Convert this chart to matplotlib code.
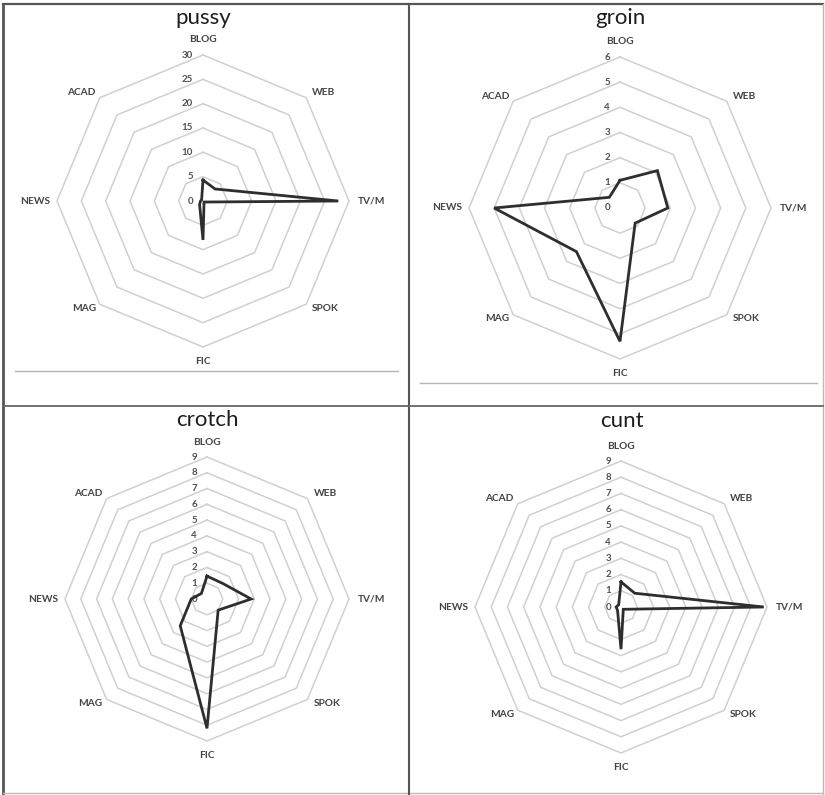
import matplotlib
matplotlib.use('Agg')
import matplotlib.pyplot as plt
import numpy as np
from matplotlib.lines import Line2D

# ---- data ----
categories = ['BLOG', 'WEB', 'TV/M', 'SPOK', 'FIC', 'MAG', 'NEWS', 'ACAD']
pussy = [4.3, 3.5, 27.8, 0.3, 8.0, 1.0, 0.5, 0.4]
groin = [1.1, 2.1, 1.9, 0.85, 5.3, 2.45, 5.0, 0.6]
crotch = [1.45, 1.4, 2.8, 1.0, 8.2, 2.4, 1.0, 0.5]
cunt = [1.55, 1.2, 8.8, 0.2, 2.6, 0.3, 0.3, 0.2]
titles = ['pussy', 'groin', 'crotch', 'cunt']
pussy_ticks = [0, 5, 10, 15, 20, 25, 30]
groin_ticks = [0, 1, 2, 3, 4, 5, 6]
crotch_ticks = [0, 1, 2, 3, 4, 5, 6, 7, 8, 9]
cunt_ticks = [0, 1, 2, 3, 4, 5, 6, 7, 8, 9]

W, H = 825, 795
fig = plt.figure(figsize=(W / 100, H / 100), dpi=100)
fig.patch.set_facecolor('white')

FONT = ['Lato', 'DejaVu Sans']

# panel geometry in pixels: centre x, centre y, radius, title x, title y
panels = [
    (titles[0], pussy, pussy_ticks, 203, 201, 146, 203, 18),
    (titles[1], groin, groin_ticks, 620, 208, 151, 620, 18),
    (titles[2], crotch, crotch_ticks, 207, 599, 142, 207, 420),
    (titles[3], cunt, cunt_ticks, 621, 607, 146, 622, 421),
]

n = len(categories)
theta = np.arange(n) * 2 * np.pi / n
theta_c = np.append(theta, theta[0])

# label offsets (pixels) and alignment per category
lab_style = {
    'BLOG': (0, 15, 'center', 'center'),
    'WEB': (6, 5, 'left', 'center'),
    'TV/M': (9, 0, 'left', 'center'),
    'SPOK': (6, -4, 'left', 'center'),
    'FIC': (0, -15, 'center', 'center'),
    'MAG': (-4, -4, 'right', 'center'),
    'NEWS': (-7, 0, 'right', 'center'),
    'ACAD': (-4, 5, 'right', 'center'),
}

for title, vals, ticks, cx, cy, R, tx, ty in panels:
    ax = fig.add_axes([(cx - R) / W, (H - cy - R) / H, 2 * R / W, 2 * R / H],
                      projection='polar')
    ax.set_theta_zero_location('N')
    ax.set_theta_direction(-1)
    rmax = ticks[-1]
    ax.set_ylim(0, rmax)
    ax.grid(False)
    ax.spines['polar'].set_visible(False)
    ax.set_xticks([])
    ax.set_yticks([])
    ax.patch.set_alpha(0)

    # octagonal rings
    for t in ticks[1:]:
        ax.plot(theta_c, [t] * (n + 1), color='#d0d0d0', lw=1.1, clip_on=False, zorder=1)

    # value labels along the top axis
    for t in ticks:
        ax.annotate(str(t), xy=(0, t), xytext=(-10, 0), textcoords='offset pixels',
                    ha='right', va='center', fontsize=7, color='#505050',
                    fontweight='bold', family=FONT, annotation_clip=False)

    # category labels
    for ang, cat in zip(theta, categories):
        dx, dy, ha, va = lab_style[cat]
        ax.annotate(cat, xy=(ang, rmax), xytext=(dx, dy), textcoords='offset pixels',
                    ha=ha, va=va, fontsize=7.3, color='#444444', fontweight='bold',
                    family=FONT, annotation_clip=False)

    # data line
    vc = list(vals) + [vals[0]]
    ax.plot(theta_c, vc, color='#2e2e2e', lw=2.0, clip_on=False, zorder=3,
            solid_joinstyle='miter')

    fig.text(tx / W, 1 - ty / H, title, ha='center', va='center', fontsize=16,
             color='#1e1e1e', family=FONT)


def fline(x0, y0, x1, y1, color, lw):
    fig.add_artist(Line2D([x0 / W, x1 / W], [1 - y0 / H, 1 - y1 / H],
                          transform=fig.transFigure, color=color, lw=lw))


# frame and dividers
fline(3, 4, 823, 4, '#555555', 1.6)
fline(3, 4, 3, 795, '#555555', 2.0)
fline(823, 4, 823, 795, '#bbbbbb', 1.0)
fline(3, 793, 823, 793, '#bbbbbb', 1.0)
fline(409, 4, 409, 795, '#555555', 1.5)
fline(3, 406, 823, 406, '#666666', 1.3)
fline(15, 371, 398, 371, '#b5b5b5', 1.0)
fline(420, 383, 817, 383, '#b5b5b5', 1.0)

fig.savefig('out.png', dpi=100, facecolor='white')
